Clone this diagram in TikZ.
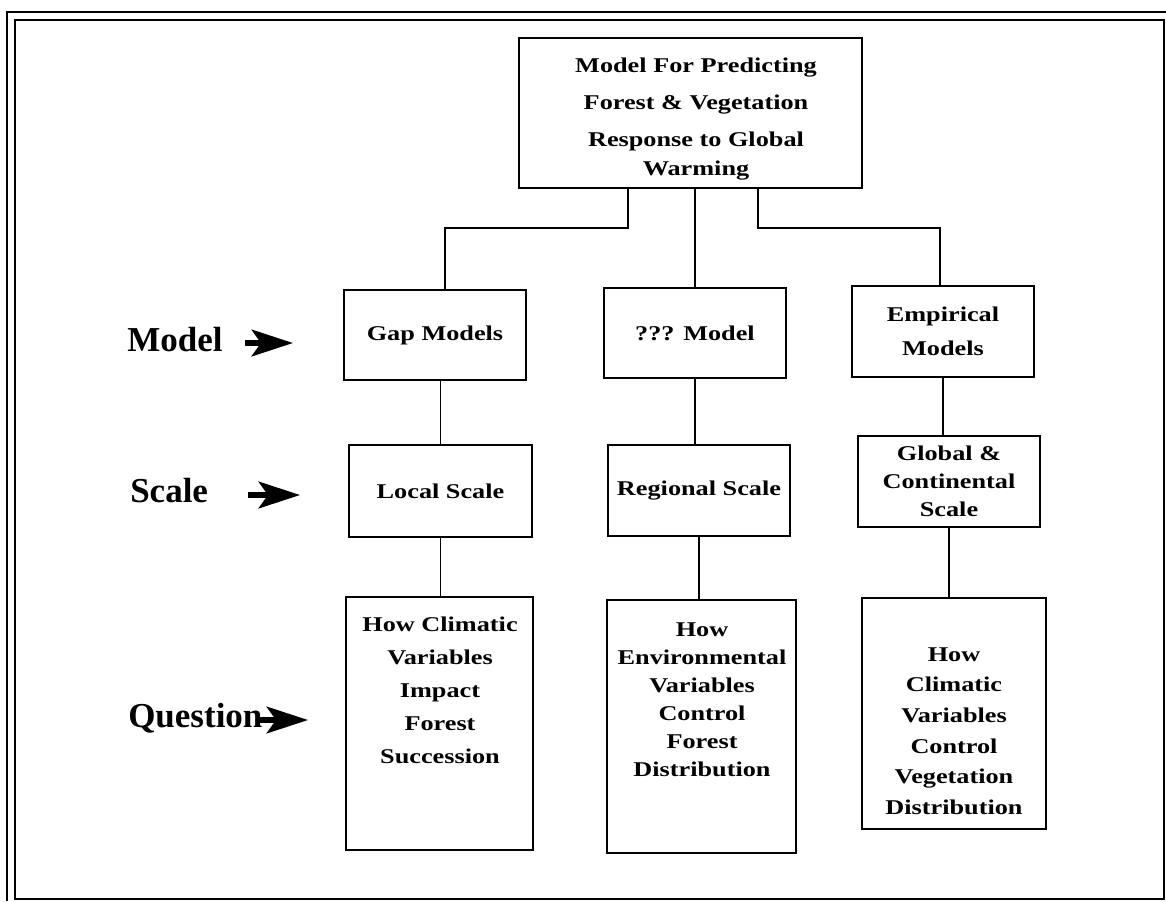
\documentclass[tikz,border=0pt]{standalone}
\usepackage{fontspec}
\setmainfont{Liberation Serif}
\newfontfamily\boxfamily[FakeStretch=1.25]{Liberation Serif}
\usetikzlibrary{arrows.meta}

\begin{document}
\begin{tikzpicture}[x=0.75pt,y=-0.75pt]
            \tikzstyle{every node}+=[inner sep=0pt]
            \tikzstyle{box}=[draw=black, line width=1.8pt, align=center, font=\boxfamily\bfseries\fontsize{15.75}{21}\selectfont]
            \tikzstyle{boxtext}=[anchor=north, align=center, font=\boxfamily\bfseries\fontsize{15.75}{21}\selectfont]
            \tikzstyle{link}=[draw=black, line width=1.1pt]
            \tikzstyle{rowlabel}=[anchor=base west, font=\bfseries\fontsize{26.25}{30}\selectfont]
            \tikzstyle{pointer}=[black, line width=4pt, -{Stealth[length=31pt, width=20pt, inset=7pt]}]
            \useasboundingbox (0,0) rectangle (1166,901);
            % double frame
            \draw [black, line width=1.2pt] (1166,12) -- (7,12) -- (7,901);
            \draw [black, line width=1.6pt] (15,20) rectangle (1164,899);
            % boxes
            \node [box, minimum width=257.25pt, minimum height=112.5pt] (forecast) at (690.5,113) {};
            \node [boxtext] (forecasttext) at (696,58) {Model For Predicting\\[6.75pt]Forest \& Vegetation\\[6.75pt]Response to Global\\[0.75pt]Warming};
            \node [box, minimum width=136.5pt, minimum height=67.5pt] (gap) at (435,335) {Gap Models};
            \node [box, minimum width=136.5pt, minimum height=67.5pt] (unknown) at (695,333) {??? Model};
            \node [box, minimum width=136.5pt, minimum height=68.25pt] (empirical) at (943,331.5) {Empirical\\[4.5pt]Models};
            \node [box, minimum width=137.25pt, minimum height=69pt] (local) at (440.5,491) {Local Scale};
            \node [box, minimum width=136.5pt, minimum height=68.25pt] (regional) at (699,490.5) {Regional Scale};
            \node [box, minimum width=136.5pt, minimum height=68.25pt] (global) at (949,481.5) {Global \&\\Continental\\Scale};
            \node [box, minimum width=140.25pt, minimum height=189.75pt] (askgap) at (439.5,723.5) {};
            \node [boxtext] (askgaptext) at (440,617) {How Climatic\\[3.75pt]Variables\\[3.75pt]Impact\\[3.75pt]Forest\\[3.75pt]Succession};
            \node [box, minimum width=141.75pt, minimum height=189.75pt] (askregional) at (701.5,726.5) {};
            \node [boxtext] (askregionaltext) at (702,622) {How\\Environmental\\Variables\\Control\\Forest\\Distribution};
            \node [box, minimum width=138pt, minimum height=173.25pt] (askglobal) at (954,713.5) {};
            \node [boxtext] (askglobaltext) at (954,647) {How\\[2pt]Climatic\\[2pt]Variables\\[2pt]Control\\[2pt]Vegetation\\[2pt]Distribution};
            % connectors
            \coordinate (leftdrop) at (628,228);
            \coordinate (rightdrop) at (758,228);
            \coordinate (splitleft) at (445,228);
            \coordinate (splitright) at (940,228);
            \draw [link] (forecast.south -| leftdrop) -- (leftdrop) -- (splitleft) -- (splitleft |- gap.north);
            \draw [link] (forecast.south -| unknown.north) -- (unknown.north);
            \draw [link] (forecast.south -| rightdrop) -- (rightdrop) -- (splitright) -- (splitright |- empirical.north);
            \draw [link] (local.north |- gap.south) -- (local.north);
            \draw [link] (local.south) -- (local.south |- askgap.north);
            \draw [link] (unknown.south) -- (unknown.south |- regional.north);
            \draw [link] (regional.south) -- (regional.south |- askregional.north);
            \draw [link] (empirical.south) -- (empirical.south |- global.north);
            \draw [link] (global.south) -- (global.south |- askglobal.north);
            % row labels
            \node [rowlabel] (modelrow) at (127,351) {Model};
            \node [rowlabel] (scalerow) at (130,502) {Scale};
            \node [rowlabel] (questionrow) at (128,727) {Question};
            \coordinate (modeltail) at (245,343);
            \coordinate (modeltip) at (293,343);
            \coordinate (scaletail) at (248,495);
            \coordinate (scaletip) at (300,495);
            \coordinate (questiontail) at (260,720);
            \coordinate (questiontip) at (308,720);
            \draw [pointer] (modeltail) -- (modeltip);
            \draw [pointer] (scaletail) -- (scaletip);
            \draw [pointer] (questiontail) -- (questiontip);
\end{tikzpicture}
\end{document}
